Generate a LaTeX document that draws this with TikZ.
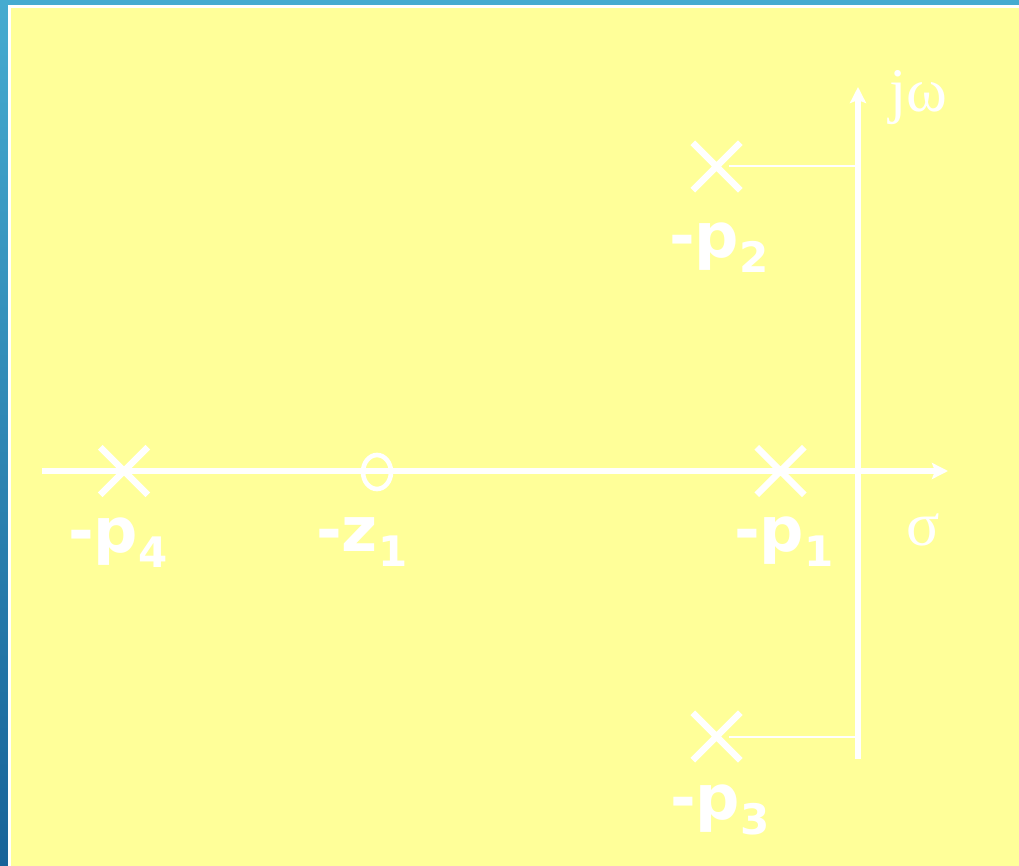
\documentclass[tikz,border=0pt]{standalone}
\usepackage{fontspec}
\setmainfont{DejaVu Sans}
\newfontfamily\serifgr{Liberation Serif}
\usetikzlibrary{arrows.meta,shapes.misc,shapes.geometric}
\definecolor{bgyellow}{HTML}{FFFF99}
\definecolor{frametop}{HTML}{46ABD0}
\definecolor{framebot}{HTML}{176399}
\tikzset{
  axis/.style={white, line width=5.3pt, -{Stealth[length=16pt,width=16pt,inset=3pt]}},
  guide/.style={white, line width=2pt},
  pole/.style={cross out, draw=white, line width=6.5pt, minimum size=41pt, inner sep=0pt},
  zero/.style={ellipse, draw=white, line width=4.6pt, minimum width=28pt, minimum height=34pt, inner sep=0pt},
  lbl/.style={white, anchor=base west, inner sep=0pt, font=\fontsize{62}{62}\selectfont\bfseries},
  grk/.style={white, anchor=base west, inner sep=0pt, font=\fontsize{62}{62}\selectfont\serifgr},
}
\newcommand{\sublbl}[2]{-#1\raisebox{-15pt}{\fontsize{42}{42}\selectfont #2}}
\begin{document}
\begin{tikzpicture}[x=1pt,y=-1pt]
\useasboundingbox (0,0) rectangle (1019,866);
% frame
\shade[top color=frametop, bottom color=framebot] (0,0) rectangle (8,866);
\fill[frametop] (8,0) rectangle (1019,5);
\fill[white] (8,5) rectangle (1019,8);
\fill[white] (8,8) rectangle (11,866);
\fill[bgyellow] (11,8) rectangle (1019,866);
% axes
\coordinate (xl) at (42,471);
\coordinate (xr) at (948,471);
\coordinate (yb) at (858,759);
\coordinate (yt) at (858,87);
\draw[axis] (xl) -- (xr);
\draw[axis] (yb) -- (yt);
% poles and zero
\node[pole] (p1) at (780.5,471) {};
\node[pole] (p2) at (716.5,166.5) {};
\node[pole] (p3) at (716.5,736.5) {};
\node[pole] (p4) at (124,471) {};
\node[zero] (z1) at (377,472) {};
% guide lines
\coordinate (g2) at (729,166.5);
\coordinate (g3) at (729,736.5);
\draw[guide] (g2) -- (g2 -| yb);
\draw[guide] (g3) -- (g3 -| yb);
% labels
\node[lbl] (lp2) at (669,258) {\sublbl{p}{2}};
\node[lbl] (lp4) at (68,552) {\sublbl{p}{4}};
\node[lbl] (lz1) at (316,551) {\sublbl{z}{1}};
\node[lbl] (lp1) at (734,551) {\sublbl{p}{1}};
\node[lbl] (lp3) at (670,819) {\sublbl{p}{3}};
\node[grk] (sig) at (906,545) {σ};
\node[grk] (jw) at (889,112) {jω};
\end{tikzpicture}
\end{document}
